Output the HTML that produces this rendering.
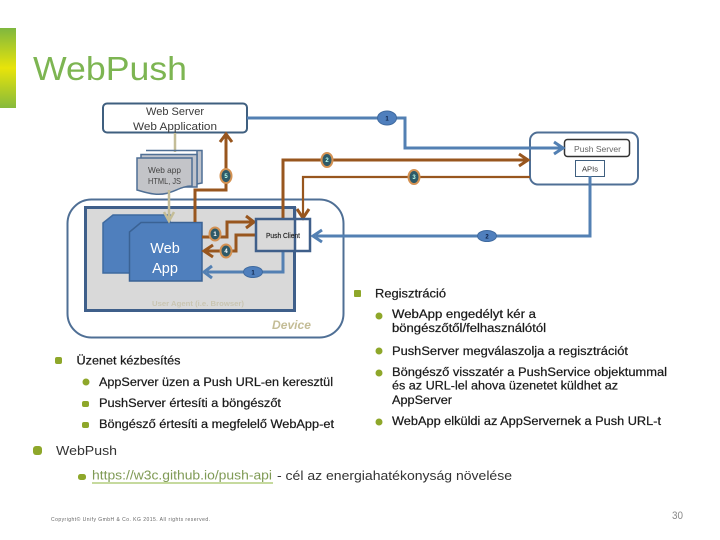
<!DOCTYPE html>
<html><head><meta charset="utf-8"><style>
html,body{margin:0;padding:0;background:#fff}
svg{display:block}
text{font-family:"Liberation Sans",sans-serif}
.t{font-size:11.5px;fill:#1a1a1a;stroke:#1a1a1a;stroke-width:.22}
.b{fill:#8ea72a}
.br{fill:none;stroke:#98561e;stroke-width:3}
.bl{fill:none;stroke:#5380b3;stroke-width:3}
.ah{fill:none;stroke-width:3}
</style></head><body>
<svg width="720" height="540" viewBox="0 0 720 540" xmlns="http://www.w3.org/2000/svg">
<defs><linearGradient id="g" x1="0" y1="0" x2="0" y2="1"><stop offset="0" stop-color="#7fb73f"/><stop offset=".5" stop-color="#e8e40a"/><stop offset="1" stop-color="#86ba3c"/></linearGradient></defs>
<rect x="0" y="28" width="16" height="80" fill="url(#g)"/>
<text x="33" y="80" font-size="33.500" fill="#7db552" textLength="154" lengthAdjust="spacingAndGlyphs">WebPush</text>

<!-- device -->
<rect x="67.500" y="199.500" width="276" height="138" rx="24" fill="#fff" stroke="#4f6f95" stroke-width="2"/>
<rect x="85.500" y="207.500" width="209" height="103" fill="#d9d9d9" stroke="#3f5f8a" stroke-width="3"/>
<text x="152" y="306" font-size="7.500" font-weight="bold" fill="#c9c5b2" textLength="92" lengthAdjust="spacingAndGlyphs">User Agent (i.e. Browser)</text>
<text x="272" y="329" font-size="12" font-weight="bold" font-style="italic" fill="#c4bd97" textLength="39" lengthAdjust="spacingAndGlyphs">Device</text>

<!-- web server -->
<rect x="103" y="103.500" width="144" height="29" rx="4" fill="#fff" stroke="#3f5f7f" stroke-width="2"/>
<text x="146" y="115" font-size="11" fill="#3a3a3a" textLength="58" lengthAdjust="spacingAndGlyphs">Web Server</text>
<text x="133" y="130" font-size="11" fill="#3a3a3a" textLength="84" lengthAdjust="spacingAndGlyphs">Web Application</text>

<!-- tan lines -->
<path d="M175 133V152" stroke="#c4bd97" stroke-width="2.500" fill="none"/>

<!-- doc stack -->
<path d="M146 150.500H202V183L197 184V151" fill="#bfc3cc" stroke="#4f6f95" stroke-width="1.500"/>
<path d="M141 154.500H197V187H141Z" fill="#bfc3cc" stroke="#4f6f95" stroke-width="1.500"/>
<path d="M137 158H192V186C178 186 172 196 154 194C146 193 141 191 137 190Z" fill="#c3c4c8" stroke="#4f6f95" stroke-width="1.500"/>
<text x="148" y="173" font-size="8.500" fill="#444" textLength="33" lengthAdjust="spacingAndGlyphs">Web app</text>
<text x="148" y="184" font-size="8.500" fill="#444" textLength="33" lengthAdjust="spacingAndGlyphs">HTML, JS</text>

<!-- push server -->
<rect x="530" y="132.500" width="108" height="52" rx="8" fill="#fff" stroke="#4f6f95" stroke-width="2"/>
<rect x="564.500" y="139.500" width="65" height="17" rx="3" fill="#fff" stroke="#333" stroke-width="1.500"/>
<text x="574" y="152" font-size="8.500" fill="#666" textLength="47" lengthAdjust="spacingAndGlyphs">Push Server</text>
<rect x="575.500" y="160.500" width="29" height="16" fill="#fff" stroke="#3f5f7f" stroke-width="1"/>
<text x="582" y="171.500" font-size="7.500" fill="#333" textLength="16" lengthAdjust="spacingAndGlyphs">APIs</text>

<!-- blue connectors -->
<path class="bl" stroke-width="2.500" d="M247 118H405V148H561"/>
<path class="ah" stroke="#5380b3" d="M554 142L563 148L554 154"/>
<path class="bl" d="M590 176V236H316"/>
<path class="ah" stroke="#5380b3" d="M322 230L313 236L322 242"/>

<!-- web app blocks -->
<path d="M113 215H170V273H103V223Z" fill="#4f7fbd" stroke="#3f6a9f" stroke-width="1.500"/>
<path d="M141 222.500H202V281H129.500V232Z" fill="#4f7fbd" stroke="#3a6294" stroke-width="1.500"/>
<text x="165" y="253" text-anchor="middle" font-size="14.500" fill="#fff">Web</text>
<text x="165" y="273" text-anchor="middle" font-size="14.500" fill="#fff">App</text>

<!-- tan arrow on top -->
<path d="M169 190V219M164 212L169 221L174 212" stroke="#c4bd97" stroke-width="2.500" fill="none"/>

<!-- inner blue -->
<path class="bl" d="M283 251V272H207"/>
<path class="ah" stroke="#5380b3" d="M212 266L204 272L212 278"/>

<!-- brown -->
<path class="br" d="M283 219V160H526"/>
<path class="ah" stroke="#98561e" d="M519 154L528 160L519 166"/>
<path class="br" style="stroke-width:2.200" d="M303 216V177H530"/>
<path class="ah" stroke="#98561e" d="M297 209L303 218L309 209"/>
<path class="br" d="M195 222V190H226V135"/>
<path class="ah" stroke="#98561e" d="M220 142L226 134L232 142"/>
<path class="br" d="M202 237H227V222H252"/>
<path class="ah" stroke="#98561e" d="M246 216L254 222L246 228"/>
<path class="br" d="M256 235H236V251H206"/>
<path class="ah" stroke="#98561e" d="M213 245L204 251L213 257"/>

<!-- push client -->
<rect x="256" y="219" width="40" height="32" fill="#d9d9d9"/>
<path d="M295 207V251" stroke="#3f5f8a" stroke-width="2.500"/>
<rect x="256" y="219" width="54" height="32" fill="none" stroke="#3f5f8a" stroke-width="2.500"/>
<text x="266" y="238" font-size="7" fill="#222" stroke="#222" stroke-width=".15" textLength="34" lengthAdjust="spacingAndGlyphs">Push Client</text>

<!-- badges -->
<g font-size="6" text-anchor="middle" font-weight="bold">
<ellipse cx="387" cy="118" rx="9.500" ry="7" fill="#4f7fbd" stroke="#3f6a9f"/><text x="387" y="120.500" fill="#0b1f44">1</text>
<ellipse cx="487" cy="236" rx="9.500" ry="5.500" fill="#4f7fbd" stroke="#3f6a9f"/><text x="487" y="238.500" fill="#0b1f44">2</text>
<ellipse cx="253" cy="272" rx="9.500" ry="5.500" fill="#4f7fbd" stroke="#3f6a9f"/><text x="253" y="274.500" fill="#0b1f44">1</text>
<ellipse cx="327" cy="160" rx="5.500" ry="7" fill="#2e5a68" stroke="#d49253" stroke-width="2"/><text x="327" y="162" fill="#bfe">2</text>
<ellipse cx="414" cy="177" rx="5.500" ry="7" fill="#2e5a68" stroke="#d49253" stroke-width="2"/><text x="414" y="179" fill="#bfe">3</text>
<ellipse cx="226" cy="176" rx="5.500" ry="7" fill="#2e5a68" stroke="#d49253" stroke-width="2"/><text x="226" y="178" fill="#bfe">5</text>
<ellipse cx="215" cy="234" rx="5.500" ry="6.500" fill="#2e5a68" stroke="#d49253" stroke-width="2"/><text x="215" y="236" fill="#fff">1</text>
<ellipse cx="226" cy="251" rx="5.500" ry="6.500" fill="#2e5a68" stroke="#d49253" stroke-width="2"/><text x="226" y="253" fill="#fff">4</text>
</g>

<!-- right text -->
<rect class="b" x="354" y="290" width="7" height="7" rx="1"/>
<text class="t" x="375" y="297.500" textLength="71" lengthAdjust="spacingAndGlyphs">Regisztráció</text>
<circle class="b" cx="379" cy="316" r="3.500"/>
<text class="t" x="392" y="318" textLength="144" lengthAdjust="spacingAndGlyphs">WebApp engedélyt kér a</text>
<text class="t" x="392" y="332" textLength="154" lengthAdjust="spacingAndGlyphs">böngészőtől/felhasználótól</text>
<circle class="b" cx="379" cy="351" r="3.500"/>
<text class="t" x="392" y="355" textLength="236" lengthAdjust="spacingAndGlyphs">PushServer megválaszolja a regisztrációt</text>
<circle class="b" cx="379" cy="373" r="3.500"/>
<text class="t" x="392" y="376" textLength="275" lengthAdjust="spacingAndGlyphs">Böngésző visszatér a PushService objektummal</text>
<text class="t" x="392" y="389.500" textLength="226" lengthAdjust="spacingAndGlyphs">és az URL-lel ahova üzenetet küldhet az</text>
<text class="t" x="392" y="404" textLength="60" lengthAdjust="spacingAndGlyphs">AppServer</text>
<circle class="b" cx="379" cy="422" r="3.500"/>
<text class="t" x="392" y="425" textLength="269" lengthAdjust="spacingAndGlyphs">WebApp elküldi az AppServernek a Push URL-t</text>

<!-- left text -->
<rect class="b" x="55" y="357" width="7" height="7" rx="2"/>
<text class="t" x="76.500" y="364.500" textLength="104" lengthAdjust="spacingAndGlyphs">Üzenet kézbesítés</text>
<circle class="b" cx="86" cy="382" r="3.500"/>
<text class="t" x="99" y="386" textLength="234" lengthAdjust="spacingAndGlyphs">AppServer üzen a Push URL-en keresztül</text>
<rect class="b" x="82" y="401" width="7" height="6" rx="2"/>
<text class="t" x="99" y="407" textLength="182" lengthAdjust="spacingAndGlyphs">PushServer értesíti a böngészőt</text>
<rect class="b" x="82" y="422" width="7" height="6" rx="2"/>
<text class="t" x="99" y="428" textLength="235" lengthAdjust="spacingAndGlyphs">Böngésző értesíti a megfelelő WebApp-et</text>

<!-- bottom -->
<rect class="b" x="33" y="446" width="9" height="9" rx="3"/>
<text x="56" y="455" font-size="12.500" fill="#333" textLength="61" lengthAdjust="spacingAndGlyphs">WebPush</text>
<rect class="b" x="78" y="474" width="8" height="6" rx="2.500"/>
<text x="92" y="479.500" font-size="12.500" fill="#7f9a55" textLength="180" lengthAdjust="spacingAndGlyphs">https://w3c.github.io/push-api</text>
<path d="M92 483H273" stroke="#8cb63c" stroke-width="1"/>
<text x="277" y="480" font-size="12.500" fill="#333" textLength="235" lengthAdjust="spacingAndGlyphs">- cél az energiahatékonyság növelése</text>
<text x="51" y="521" font-size="5" fill="#666" textLength="159" lengthAdjust="spacing">Copyright© Unify GmbH &amp; Co. KG 2015. All rights reserved.</text>
<text x="672" y="519" font-size="11" fill="#888" textLength="11" lengthAdjust="spacingAndGlyphs">30</text>
</svg>
</body></html>
